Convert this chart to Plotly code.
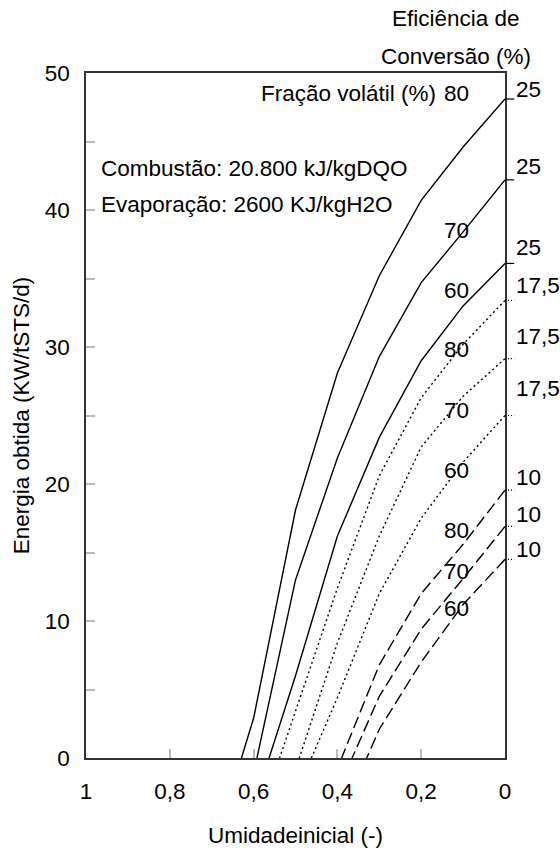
import plotly.graph_objects as go

# ---- data ----
umidade_solid = [0.0, 0.1, 0.2, 0.3, 0.4, 0.5, 0.6]
solid80 = [48.1, 44.6, 40.7, 35.2, 28.1, 18.1, 2.9]
solid80_zero = 0.629
umidade_s70 = [0.0, 0.1, 0.2, 0.3, 0.4, 0.5]
solid70 = [42.2, 38.4, 34.7, 29.3, 21.9, 13.0]
solid70_zero = 0.592
solid60 = [36.1, 33.0, 29.0, 23.4, 16.2, 6.0]
solid60_zero = 0.563

dot80 = [33.4, 30.2, 26.3, 20.6, 12.4, 3.4]
dot80_zero = 0.538
umidade_d = [0.0, 0.1, 0.2, 0.3, 0.4]
dot70 = [29.15, 26.4, 22.7, 16.2, 8.4]
dot70_zero = 0.491
dot60 = [25.0, 21.6, 17.5, 12.0, 4.4]
dot60_zero = 0.462

umidade_dash = [0.0, 0.1, 0.2, 0.3]
dash80 = [19.55, 15.6, 12.0, 6.8]
dash80_zero = 0.39
dash70 = [16.9, 13.1, 9.4, 4.5]
dash70_zero = 0.365
dash60 = [14.5, 11.2, 7.0, 2.1]
dash60_zero = 0.33

fracao_labels = ["80", "70", "60", "80", "70", "60", "80", "70", "60"]
fracao_label_y = [48.5, 38.5, 34.1, 29.8, 25.4, 21.0, 16.6, 13.6, 10.9]
eficiencia = ["25", "25", "25", "17,5", "17,5", "17,5", "10", "10", "10"]

x_tickvals = [1, 0.8, 0.6, 0.4, 0.2, 0]
x_ticktext = ["1", "0,8", "0,6", "0,4", "0,2", "0"]
y_tickvals = [0, 10, 20, 30, 40, 50]

FONT = "Liberation Sans, Arial, Helvetica, sans-serif"
FS = 22.5

series = [
    (umidade_solid, solid80, solid80_zero, "solid"),
    (umidade_s70, solid70, solid70_zero, "solid"),
    (umidade_s70, solid60, solid60_zero, "solid"),
    (umidade_s70, dot80, dot80_zero, "2px,3px"),
    (umidade_d, dot70, dot70_zero, "2px,3px"),
    (umidade_d, dot60, dot60_zero, "2px,3px"),
    (umidade_dash, dash80, dash80_zero, "12px,5px"),
    (umidade_dash, dash70, dash70_zero, "12px,5px"),
    (umidade_dash, dash60, dash60_zero, "12px,5px"),
]

fig = go.Figure()
for xs, ys, x0, dash in series:
    fig.add_trace(go.Scatter(
        x=list(xs) + [x0], y=list(ys) + [0],
        mode="lines", line=dict(color="black", width=1.4, dash=dash),
        showlegend=False, hoverinfo="skip"))

# right-side small ticks and efficiency labels
label_shift = [10, 13, 16, 15, 22, 27, 13, 12, 10]
for (xs, ys, x0, dash), lab, sh in zip(series, eficiencia, label_shift):
    fig.add_shape(type="line", xref="paper", yref="y",
                  x0=1.0, x1=1.022, y0=ys[0], y1=ys[0],
                  line=dict(color="black", width=1.2,
                            dash="solid" if dash == "solid" else ("1px,2px" if "2px" in dash else "4px,2px")))
    fig.add_annotation(xref="paper", yref="y", x=1.0205, y=ys[0], text=lab,
                       showarrow=False, xanchor="left", yanchor="middle", yshift=sh,
                       font=dict(family=FONT, size=FS, color="black"))

# curve labels (volatile fraction)
for lab, yv in zip(fracao_labels, fracao_label_y):
    fig.add_annotation(x=0.115, y=yv, text=lab, showarrow=False,
                       xanchor="center", yanchor="middle",
                       font=dict(family=FONT, size=FS, color="black"))

fig.add_annotation(xref="paper", yref="y", x=0.84, y=48.5, text="Fração volátil (%)",
                   showarrow=False, xanchor="right", yanchor="middle",
                   font=dict(family=FONT, size=FS, color="black"))
fig.add_annotation(xref="paper", yref="paper", x=0.031, y=0.86,
                   text="Combustão: 20.800 kJ/kgDQO", showarrow=False,
                   xanchor="left", yanchor="middle",
                   font=dict(family=FONT, size=FS, color="black"))
fig.add_annotation(xref="paper", yref="paper", x=0.031, y=0.808,
                   text="Evaporação: 2600 KJ/kgH2O", showarrow=False,
                   xanchor="left", yanchor="middle",
                   font=dict(family=FONT, size=FS, color="black"))
fig.add_annotation(xref="paper", yref="paper", x=0.884, y=1.08,
                   text="Eficiência de", showarrow=False,
                   xanchor="center", yanchor="middle",
                   font=dict(family=FONT, size=FS, color="black"))
fig.add_annotation(xref="paper", yref="paper", x=0.884, y=1.024,
                   text="Conversão (%)", showarrow=False,
                   xanchor="center", yanchor="middle",
                   font=dict(family=FONT, size=FS, color="black"))

axis_common = dict(showgrid=False, zeroline=False, showline=True, linecolor="#333",
                   linewidth=1.6, mirror=True, ticks="inside", ticklen=9,
                   tickcolor="#bbb", tickwidth=1.5, automargin=False,
                   tickfont=dict(family=FONT, size=FS, color="black"))

fig.update_xaxes(range=[1, 0], tickvals=x_tickvals, ticktext=x_ticktext,
                 ticklabelstandoff=12,
                 title=dict(text="Umidadeinicial (-)", standoff=24,
                            font=dict(family=FONT, size=FS, color="black")),
                 **axis_common)
fig.update_yaxes(range=[0, 50], tickvals=y_tickvals, ticklabelstandoff=10,
                 minor=dict(dtick=5, ticks="inside", ticklen=9, tickcolor="#bbb", tickwidth=1.5),
                 title=dict(text="Energia obtida (KW/tSTS/d)", standoff=9,
                            font=dict(family=FONT, size=FS, color="black")),
                 **axis_common)

fig.update_layout(width=560, height=852, margin=dict(l=86, r=55, t=73, b=94),
                  plot_bgcolor="white", paper_bgcolor="white",
                  font=dict(family=FONT, size=FS, color="black"))

# remove the browser's default 8px page margin so the figure fills the window exactly
fig.write_html("out.html", config={"displayModeBar": False},
               post_script="document.body.style.margin='0';document.body.style.overflow='hidden';")
